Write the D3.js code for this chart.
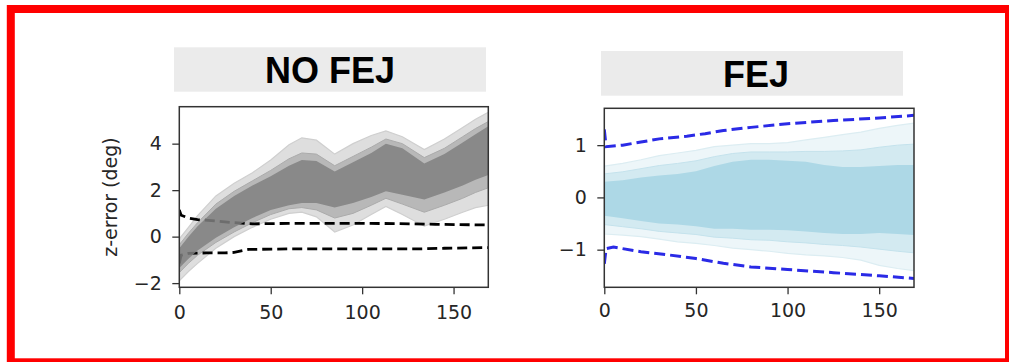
<!DOCTYPE html>
<html><head><meta charset="utf-8">
<script src="https://cdn.jsdelivr.net/npm/d3@7"></script>
<style>body{margin:0;background:#fff} svg{display:block}</style>
</head><body><svg id="c" width="1009" height="362"></svg>
<script>
// ---------------- data ----------------
const titles = ["NO FEJ", "FEJ"];
const xTicks = [0, 50, 100, 150];
const leftYTicks = [-2, 0, 2, 4];
const rightYTicks = [-1, 0, 1];
const yLabel = "z-error (deg)";

// NO FEJ : envelope of the Monte-Carlo z-error runs
const noFejT       = [0, 5, 10, 20, 30, 40, 50, 60, 67, 75, 85, 95, 105, 113, 122, 134, 145, 155, 162, 169];
const noFejOuterHi = [-0.1, 0.4, 0.9, 1.75, 2.3, 2.75, 3.3, 3.95, 4.25, 4.15, 3.55, 4.0, 4.35, 4.55, 4.3, 3.75, 4.2, 4.7, 5.05, 5.35];
const noFejMidHi   = [-0.35, 0.15, 0.6, 1.4, 1.95, 2.4, 2.85, 3.35, 3.6, 3.55, 3.05, 3.45, 3.85, 4.2, 4.0, 3.4, 3.8, 4.3, 4.65, 4.95];
const noFejCoreHi  = [-0.5, 0.0, 0.45, 1.2, 1.75, 2.2, 2.6, 3.05, 3.3, 3.25, 2.8, 3.2, 3.6, 4.0, 3.8, 3.15, 3.55, 4.05, 4.4, 4.75];
const noFejCoreLo  = [-1.35, -0.95, -0.6, -0.05, 0.4, 0.8, 1.15, 1.35, 1.45, 1.45, 1.25, 1.45, 1.7, 1.95, 1.8, 1.6, 1.9, 2.2, 2.45, 2.65];
const noFejMidLo   = [-1.55, -1.15, -0.8, -0.25, 0.2, 0.6, 0.95, 1.2, 1.25, 1.15, 0.8, 1.0, 1.35, 1.65, 1.4, 1.05, 1.35, 1.65, 1.9, 2.1];
const noFejOuterLo = [-1.9, -1.5, -1.15, -0.5, 0.0, 0.4, 0.75, 1.0, 1.05, 0.85, 0.2, 0.5, 0.95, 1.3, 0.95, 0.45, 0.75, 1.05, 1.25, 1.35];

// NO FEJ : 3-sigma bounds (black dashed)
const noFejSigT  = [0, 1, 5, 10, 20, 30, 40, 60, 80, 100, 120, 140, 169];
const noFejSigHi = [1.15, 0.92, 0.8, 0.73, 0.67, 0.6, 0.55, 0.57, 0.57, 0.57, 0.56, 0.53, 0.5];
const noFejSigLoT = [0, 1, 5, 15, 25, 30, 38, 60, 100, 130, 145, 169];
const noFejSigLo  = [-1.15, -0.8, -0.72, -0.7, -0.7, -0.68, -0.55, -0.53, -0.53, -0.53, -0.5, -0.47];

// FEJ : envelope of the runs
const fejT       = [0, 10, 20, 30, 40, 50, 60, 70, 80, 90, 100, 110, 120, 130, 140, 150, 160, 169];
const fejOuterHi = [0.6, 0.65, 0.72, 0.8, 0.85, 0.9, 0.97, 1.0, 1.03, 1.03, 1.05, 1.1, 1.15, 1.2, 1.25, 1.32, 1.38, 1.42];
const fejMidHi   = [0.45, 0.49, 0.55, 0.61, 0.65, 0.7, 0.78, 0.84, 0.87, 0.87, 0.87, 0.88, 0.88, 0.89, 0.91, 0.96, 1.0, 1.02];
const fejCoreHi  = [0.3, 0.33, 0.38, 0.42, 0.45, 0.5, 0.6, 0.68, 0.72, 0.72, 0.7, 0.68, 0.62, 0.58, 0.58, 0.6, 0.62, 0.62];
const fejCoreLo  = [-0.35, -0.4, -0.45, -0.5, -0.52, -0.55, -0.6, -0.6, -0.62, -0.62, -0.63, -0.65, -0.68, -0.7, -0.7, -0.68, -0.7, -0.72];
const fejMidLo   = [-0.52, -0.56, -0.6, -0.65, -0.68, -0.71, -0.76, -0.78, -0.81, -0.82, -0.85, -0.87, -0.9, -0.92, -0.95, -0.99, -1.03, -1.06];
const fejOuterLo = [-0.7, -0.72, -0.75, -0.8, -0.85, -0.88, -0.92, -0.97, -1.0, -1.03, -1.07, -1.1, -1.12, -1.15, -1.2, -1.3, -1.36, -1.4];

// FEJ : 3-sigma bounds (blue dashed)
const fejSigHiT = [0, 1, 10, 20, 30, 45, 55, 65, 80, 100, 125, 150, 169];
const fejSigHi  = [1.3, 0.97, 1.0, 1.06, 1.12, 1.17, 1.22, 1.28, 1.34, 1.41, 1.47, 1.52, 1.57];
const fejSigLoT = [0, 1, 5, 20, 35, 50, 65, 80, 100, 125, 150, 169];
const fejSigLo  = [-1.27, -0.98, -0.95, -1.04, -1.1, -1.17, -1.26, -1.33, -1.38, -1.44, -1.5, -1.55];

// ---------------- drawing ----------------
const svg = d3.select("#c");
svg.append("rect").attr("width", 1009).attr("height", 362).attr("fill", "#fff");

const zip = (t, a, b) => t.map((d, i) => ({t: d, a: a[i], b: b ? b[i] : null}));

function panel(cfg) {
  const x = d3.scaleLinear().domain([0, 169]).range([cfg.x0, cfg.x1]);
  const y = d3.scaleLinear().domain(cfg.yDom).range([cfg.y1, cfg.y0]);
  const g = svg.append("g");
  const clipId = "clip" + cfg.id;
  svg.append("clipPath").attr("id", clipId).append("rect")
    .attr("x", cfg.x0).attr("y", cfg.y0).attr("width", cfg.x1 - cfg.x0).attr("height", cfg.y1 - cfg.y0);
  const plot = g.append("g").attr("clip-path", `url(#${clipId})`);

  // title box
  g.append("rect").attr("x", cfg.tx0).attr("y", cfg.ty0).attr("width", cfg.tx1 - cfg.tx0).attr("height", cfg.ty1 - cfg.ty0)
    .attr("fill", "#ebebeb");
  g.append("text").attr("x", cfg.tcx).attr("y", cfg.tby).attr("text-anchor", "middle")
    .attr("font-family", "Liberation Sans, Arial, sans-serif").attr("font-weight", "bold")
    .attr("font-size", 36).attr("fill", "#000").text(cfg.title);

  const area = d3.area().x(d => x(d.t)).y0(d => y(d.b)).y1(d => y(d.a));
  const line = d3.line().x(d => x(d.t)).y(d => y(d.a));

  cfg.draw(plot, x, y, area, line);

  // axes
  const ax = g.append("g").attr("transform", `translate(0,${cfg.y1})`)
    .call(d3.axisBottom(x).tickValues(xTicks).tickSize(7).tickPadding(cfg.xPad).tickSizeOuter(0));
  const ay = g.append("g").attr("transform", `translate(${cfg.x0},0)`)
    .call(d3.axisLeft(y).tickValues(cfg.yTicks).tickFormat(d3.format("d")).tickSize(7).tickPadding(10.5).tickSizeOuter(0));
  [ax, ay].forEach(a => {
    a.select(".domain").remove();
    a.selectAll("line").attr("stroke", "#333").attr("stroke-width", 1.3);
    a.selectAll("text").attr("font-family", "DejaVu Sans, sans-serif").attr("font-size", 19).attr("fill", "#262626");
  });
  g.append("rect").attr("x", cfg.x0).attr("y", cfg.y0).attr("width", cfg.x1 - cfg.x0).attr("height", cfg.y1 - cfg.y0)
    .attr("fill", "none").attr("stroke", "#333").attr("stroke-width", 1.5);
  return g;
}

// NO FEJ panel
panel({
  id: "L", title: titles[0], x0: 179.3, x1: 488.3, y0: 106.7, y1: 287.3, yDom: [-2.18, 5.59], yTicks: leftYTicks, xPad: 11.5,
  tx0: 174, tx1: 486, ty0: 47.3, ty1: 91.7, tcx: 330, tby: 83.3,
  draw: (p, x, y, area, line) => {
    p.append("path").datum(zip(noFejT, noFejOuterHi, noFejOuterLo)).attr("d", area)
      .attr("fill", "#dedede").attr("stroke", "#cfcfcf").attr("stroke-width", 1.2);
    p.append("path").datum(zip(noFejT, noFejMidHi, noFejMidLo)).attr("d", area)
      .attr("fill", "#b8b8b8").attr("stroke", "#ababab").attr("stroke-width", 1);
    const dash = s => s.attr("fill", "none").attr("stroke", "#000").attr("stroke-width", 2.8).attr("stroke-dasharray", "10,5");
    p.append("path").datum(zip(noFejSigT, noFejSigHi)).attr("d", line).call(dash);
    p.append("path").datum(zip(noFejSigLoT, noFejSigLo)).attr("d", line).call(dash);
    p.append("path").datum(zip(noFejT, noFejCoreHi, noFejCoreLo)).attr("d", area).attr("fill", "#808080").attr("fill-opacity", 0.85);
  }
});

// FEJ panel
panel({
  id: "R", title: titles[1], x0: 604.3, x1: 914, y0: 108.3, y1: 287.3, yDom: [-1.72, 1.705], yTicks: rightYTicks, xPad: 9,
  tx0: 601, tx1: 903, ty0: 51, ty1: 95.7, tcx: 756, tby: 87,
  draw: (p, x, y, area, line) => {
    p.append("path").datum(zip(fejT, fejOuterHi, fejOuterLo)).attr("d", area)
      .attr("fill", "#edf6f9").attr("stroke", "#dcedf2").attr("stroke-width", 1.2);
    p.append("path").datum(zip(fejT, fejMidHi, fejMidLo)).attr("d", area)
      .attr("fill", "#d3eaf1").attr("stroke", "#c4e2ec").attr("stroke-width", 1);
    p.append("path").datum(zip(fejT, fejCoreHi, fejCoreLo)).attr("d", area).attr("fill", "#add8e6");
    const dash = s => s.attr("fill", "none").attr("stroke", "#2a2ae6").attr("stroke-width", 3).attr("stroke-dasharray", "11,5");
    p.append("path").datum(zip(fejSigHiT, fejSigHi)).attr("d", line).call(dash);
    p.append("path").datum(zip(fejSigLoT, fejSigLo)).attr("d", line).call(dash);
  }
});

// y label (centred on the axes height, like matplotlib)
svg.append("text").attr("transform", "translate(117,197) rotate(-90)").attr("text-anchor", "middle")
  .attr("font-family", "DejaVu Sans, sans-serif").attr("font-size", 19).attr("fill", "#262626").text(yLabel);

// red frame
svg.append("rect").attr("x", 10.8).attr("y", 9).attr("width", 998.2).attr("height", 353.3)
  .attr("fill", "none").attr("stroke", "#ff0000").attr("stroke-width", 8);
</script>
</body></html>
